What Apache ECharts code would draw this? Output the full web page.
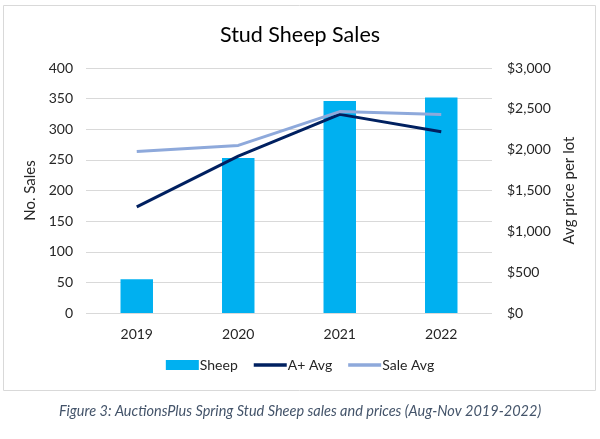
<!DOCTYPE html>
<html><head><meta charset="utf-8">
<script src="https://cdn.jsdelivr.net/npm/echarts@6/dist/echarts.min.js"></script>
<style>html,body{margin:0;padding:0;background:#fff}#c{width:600px;height:439px}</style>
</head><body><div id="c"></div>
<script>
const categories = ['2019', '2020', '2021', '2022'];
const sheep = [55, 253, 346, 352];
const aPlusAvg = [1300, 1921, 2432, 2219];
const saleAvg = [1979, 2052, 2466, 2432];
const leftTicks = [0, 400, 50];
const rightTicks = [0, 3000, 500];

const font = 'Lato, "Noto Sans", sans-serif';
const chart = echarts.init(document.getElementById('c'), null, {renderer: 'canvas'});
chart.setOption({
  animation: false,
  textStyle: {fontFamily: font},
  title: {text: 'Stud Sheep Sales', left: 'center', top: 19, textStyle: {fontFamily: font, fontSize: 21.5, fontWeight: 'normal', color: '#000'}},
  graphic: [
    {type: 'rect', shape: {x: 3.5, y: 5.5, width: 592, height: 385}, style: {fill: 'none', stroke: '#d9d9d9', lineWidth: 1}, z: -1},
    {type: 'text', left: 'center', top: 404, style: {text: 'Figure 3: AuctionsPlus Spring Stud Sheep sales and prices (Aug-Nov 2019-2022)', font: 'italic 14.5px ' + font, fill: '#44546A'}}
  ],
  legend: {
    bottom: 62, left: 'center', itemGap: 16, itemWidth: 33, itemHeight: 10,
    textStyle: {fontFamily: font, fontSize: 14, color: '#262626', padding: [0, 0, 0, -4]},
    data: [
      {name: 'Sheep', icon: 'rect'},
      {name: 'A+ Avg', icon: 'path://M0,3.5 L30,3.5 L30,6.5 L0,6.5 Z', itemStyle: {color: '#002060'}},
      {name: 'Sale Avg', icon: 'path://M0,3.5 L30,3.5 L30,6.5 L0,6.5 Z', itemStyle: {color: '#8EA9DB'}}
    ]
  },
  grid: {left: 86, right: 108, top: 68, bottom: 126},
  xAxis: {
    type: 'category', data: categories,
    axisLine: {show: false}, axisTick: {show: false},
    axisLabel: {fontFamily: font, fontSize: 14, color: '#262626', margin: 14}
  },
  yAxis: [
    {
      type: 'value', min: leftTicks[0], max: leftTicks[1], interval: leftTicks[2],
      name: 'No. Sales', nameLocation: 'middle', nameGap: 43, nameRotate: 90,
      nameTextStyle: {fontFamily: font, fontSize: 15, color: '#262626'},
      axisLine: {show: false}, axisTick: {show: false},
      axisLabel: {fontFamily: font, fontSize: 14, color: '#262626', margin: 13},
      splitLine: {lineStyle: {color: '#d9d9d9', width: 1}}
    },
    {
      type: 'value', min: rightTicks[0], max: rightTicks[1], interval: rightTicks[2],
      name: 'Avg price per lot', nameLocation: 'middle', nameGap: 67, nameRotate: 90,
      nameTextStyle: {fontFamily: font, fontSize: 15, color: '#262626'},
      axisLine: {show: false}, axisTick: {show: false},
      axisLabel: {fontFamily: font, fontSize: 14, color: '#262626', margin: 15,
        formatter: v => '$' + v.toLocaleString('en-US')},
      splitLine: {show: false}
    }
  ],
  series: [
    {name: 'Sheep', type: 'bar', data: sheep, barWidth: '32%', itemStyle: {color: '#00B0F0'}, yAxisIndex: 0},
    {name: 'A+ Avg', type: 'line', data: aPlusAvg, yAxisIndex: 1, symbol: 'none', lineStyle: {color: '#002060', width: 3}, itemStyle: {color: '#002060'}, z: 3},
    {name: 'Sale Avg', type: 'line', data: saleAvg, yAxisIndex: 1, symbol: 'none', lineStyle: {color: '#8EA9DB', width: 3}, itemStyle: {color: '#8EA9DB'}, z: 4}
  ]
});
</script></body></html>
